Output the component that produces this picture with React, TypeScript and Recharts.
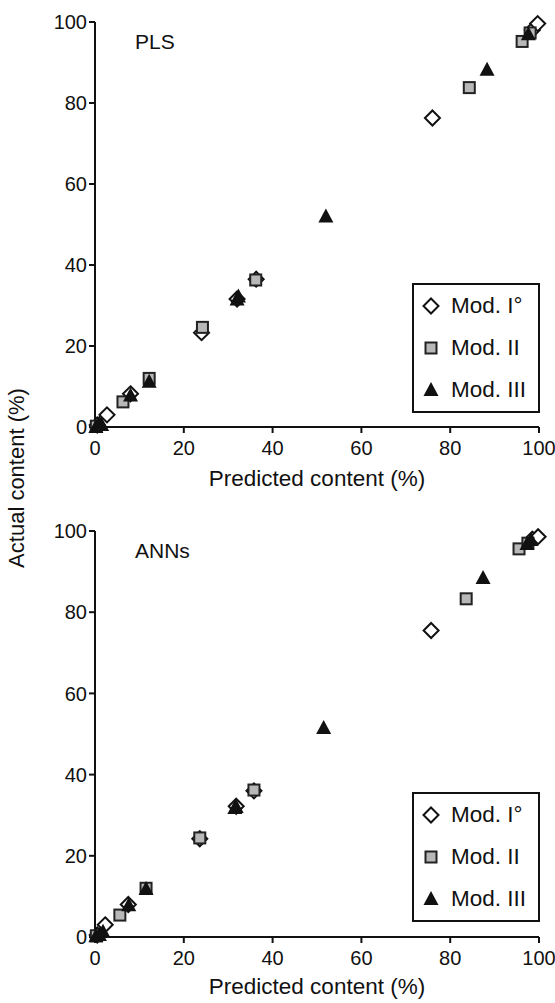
import { ScatterChart, Scatter, XAxis, YAxis, Legend } from "recharts";

const axisTicks = [0, 20, 40, 60, 80, 100];
const modelNames = ["Mod. I°", "Mod. II", "Mod. III"];

// PLS panel: predicted vs actual
const plsPredI = [0.5, 2.7, 8, 24, 32, 36.3, 76, 98.5, 99.7];
const plsActI = [0.5, 3, 8.2, 23.3, 31.6, 36.5, 76.3, 98, 99.6];
const plsPredII = [0.3, 6.3, 12.2, 24.2, 36.2, 84.3, 96.2, 98];
const plsActII = [0.2, 6.2, 12, 24.6, 36.3, 83.8, 95.2, 97.3];
const plsPredIII = [0.2, 1, 1.5, 8, 12.2, 32, 32.3, 52, 88.3, 97.6];
const plsActIII = [0, 1, 0.5, 7.8, 11.2, 31.5, 32.2, 52, 88.2, 97];

// ANNs panel
const annPredI = [0.5, 2.3, 7.5, 23.6, 31.8, 35.8, 75.7, 98.5, 99.8];
const annActI = [0.5, 3, 8, 24.2, 32.2, 36, 75.5, 98, 98.6];
const annPredII = [0.3, 5.6, 11.5, 23.6, 35.8, 83.6, 95.5, 97.5];
const annActII = [0.3, 5.4, 12, 24.4, 36.2, 83.3, 95.6, 97];
const annPredIII = [0.2, 1, 1.8, 7.6, 11.5, 31.8, 31.5, 51.5, 87.4, 97.3, 98.2];
const annActIII = [0.2, 0.5, 1.3, 7.8, 11.8, 32, 31.8, 51.5, 88.4, 96.8, 97.8];

const font = "'Liberation Sans', Arial, sans-serif";
const ink = "#111";

const zip = (xs: number[], ys: number[]) => xs.map((x, i) => ({ x, y: ys[i] }));

const DiamondMark = ({ cx, cy }: any) => (
  <polygon
    points={`${cx},${cy - 7.5} ${cx + 7.5},${cy} ${cx},${cy + 7.5} ${cx - 7.5},${cy}`}
    fill="#fff"
    stroke={ink}
    strokeWidth={2}
  />
);

const SquareMark = ({ cx, cy }: any) => (
  <rect x={cx - 5.5} y={cy - 5.5} width={11} height={11} fill="#b8b8b8" stroke="#222" strokeWidth={2} />
);

const TriangleMark = ({ cx, cy }: any) => (
  <polygon points={`${cx},${cy - 8} ${cx + 7.5},${cy + 6} ${cx - 7.5},${cy + 6}`} fill={ink} />
);

const markers = [DiamondMark, SquareMark, TriangleMark];

function LegendBox() {
  return (
    <div
      style={{
        border: `2px solid ${ink}`,
        background: "#fff",
        width: 124,
        height: 126,
        boxSizing: "content-box",
        fontFamily: font,
        fontSize: 22.5,
        color: ink,
      }}
    >
      {modelNames.map((name, i) => {
        const Mark = markers[i];
        return (
          <div key={name} style={{ display: "flex", alignItems: "center", height: 42 }}>
            <svg width={34} height={24}>
              <Mark cx={17} cy={12} />
            </svg>
            <span style={{ marginLeft: 3, whiteSpace: "nowrap" }}>{name}</span>
          </div>
        );
      })}
    </div>
  );
}

interface PanelProps {
  title: string;
  top: number;
  height: number;
  marginTop: number;
  xAxisHeight: number;
  series: { x: number; y: number }[][];
}

function Panel({ title, top, height, marginTop, xAxisHeight, series }: PanelProps) {
  return (
    <div style={{ position: "absolute", left: 0, top, width: 555, height }}>
      <ScatterChart width={555} height={height} margin={{ top: marginTop, right: 16, bottom: 0, left: 0 }}>
        <XAxis
          type="number"
          dataKey="x"
          domain={[0, 100]}
          ticks={axisTicks}
          height={xAxisHeight}
          tickSize={6}
          tickMargin={8}
          axisLine={{ stroke: ink, strokeWidth: 2 }}
          tickLine={{ stroke: ink, strokeWidth: 2 }}
          tick={{ fill: ink, fontSize: 20, fontFamily: font }}
          label={{
            value: "Predicted content (%)",
            position: "insideBottom",
            offset: 9,
            fill: ink,
            fontSize: 22.5,
            fontFamily: font,
          }}
        />
        <YAxis
          type="number"
          dataKey="y"
          domain={[0, 100]}
          ticks={axisTicks}
          width={95}
          tickSize={6}
          tickMargin={2}
          axisLine={{ stroke: ink, strokeWidth: 2 }}
          tickLine={{ stroke: ink, strokeWidth: 2 }}
          tick={{ fill: ink, fontSize: 20, fontFamily: font }}
        />
        {series.map((pts, i) => (
          <Scatter
            key={modelNames[i]}
            name={modelNames[i]}
            data={pts}
            shape={markers[i]}
            isAnimationActive={false}
          />
        ))}
        <Legend
          layout="vertical"
          align="center"
          verticalAlign="middle"
          content={<LegendBox />}
          wrapperStyle={{ left: 412, top: marginTop + 261, width: 128 }}
        />
      </ScatterChart>
      <div
        style={{
          position: "absolute",
          left: 135,
          top: marginTop + 8,
          fontFamily: font,
          fontSize: 21,
          color: ink,
        }}
      >
        {title}
      </div>
    </div>
  );
}

export default function App() {
  return (
    <div style={{ position: "absolute", left: 0, top: 0, width: 555, height: 1003, background: "#fff" }}>
      <Panel
        title="PLS"
        top={0}
        height={495}
        marginTop={22}
        xAxisHeight={68}
        series={[zip(plsPredI, plsActI), zip(plsPredII, plsActII), zip(plsPredIII, plsActIII)]}
      />
      <Panel
        title="ANNs"
        top={495}
        height={508}
        marginTop={36}
        xAxisHeight={66}
        series={[zip(annPredI, annActI), zip(annPredII, annActII), zip(annPredIII, annActIII)]}
      />
      <div
        style={{
          position: "absolute",
          left: 17,
          top: 478,
          transform: "translate(-50%, -50%) rotate(-90deg)",
          whiteSpace: "nowrap",
          fontFamily: font,
          fontSize: 22,
          color: ink,
        }}
      >
        Actual content (%)
      </div>
    </div>
  );
}
